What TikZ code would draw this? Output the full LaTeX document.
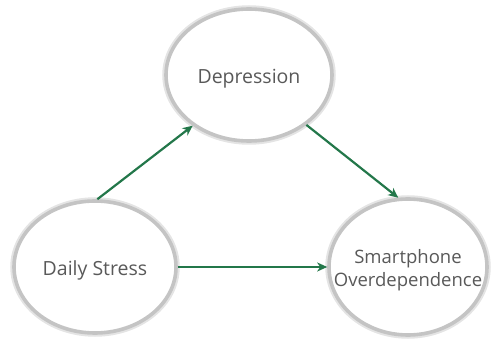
\documentclass[tikz,border=0pt]{standalone}
\usepackage{fontspec}
\setmainfont{Open Sans}
\usetikzlibrary{shapes.geometric,arrows.meta}
\definecolor{ringgray}{HTML}{C4C4C4}
\definecolor{ringsoft}{HTML}{E4E4E4}
\definecolor{txtgray}{HTML}{595959}
\definecolor{arrgreen}{HTML}{23774A}
\tikzset{
  bubble/.style={ellipse, inner sep=0pt, draw=ringgray, line width=3.6pt, fill=white,
    preaction={draw=ringsoft, line width=7.5pt}},
  lbl/.style={text=txtgray, font=\fontsize{19.5}{23}\selectfont, align=center, inner sep=0pt, yshift=-3.5pt},
  link/.style={draw=arrgreen, line width=2.2pt, -{Stealth[length=10pt,width=9pt,inset=3pt]}}
}
\begin{document}
\begin{tikzpicture}[x=1pt,y=-1pt]
\useasboundingbox (0,0) rectangle (491,342);
\node[bubble, minimum width=166pt, minimum height=132pt,
  label={[lbl]center:Depression}] (dep) at (249,75) {};
\node[bubble, minimum width=162pt, minimum height=132pt,
  label={[lbl]center:Daily Stress}] (ds) at (95,267) {};
\node[bubble, minimum width=158pt, minimum height=136pt,
  label={[lbl, font=\fontsize{18.5}{23}\selectfont]center:Smartphone\\Overdependence}] (sp) at (408,267) {};
\draw[link] (ds.88) -- (dep.222);
\draw[link] (dep.-41) -- (sp.98);
\draw[link] (ds.east) -- (sp.west);
\end{tikzpicture}
\end{document}
